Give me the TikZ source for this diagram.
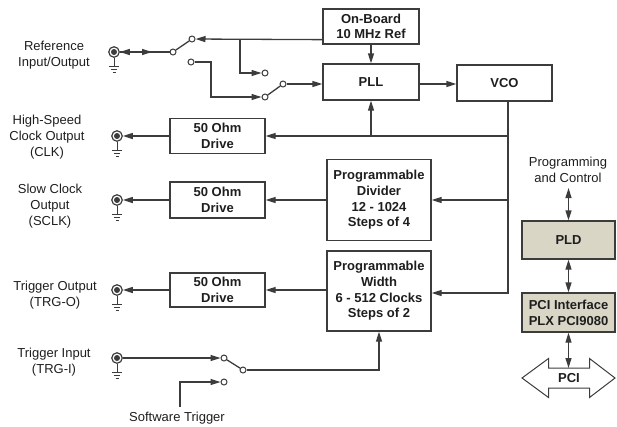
\documentclass[tikz,border=0pt]{standalone}
\usepackage{fontspec}
\setmainfont{Liberation Sans}
\usetikzlibrary{arrows.meta,calc}
\definecolor{ln}{RGB}{60,60,60}
\definecolor{txt}{RGB}{30,30,30}
\definecolor{pldfill}{RGB}{217,214,198}
\tikzset{
  wire/.style={draw=ln, line width=1.3pt},
  arr/.style={wire, -{Triangle[length=10pt,width=6pt]}},
  darr/.style={wire, {Triangle[length=10pt,width=6pt]}-{Triangle[length=10pt,width=6pt]}},
  box/.style={draw=ln, line width=1.3pt, fill=white, text=txt, inner sep=0pt, align=center,
    font=\fontsize{13}{15.7}\selectfont\bfseries},
  lbl/.style={text=txt, inner sep=0pt, align=center, font=\fontsize{13}{16}\selectfont},
  contact/.style={circle, draw=ln, line width=1pt, fill=white, inner sep=0pt, minimum size=6pt},
  conn/.style={circle, draw=ln, line width=1.2pt, fill=white, inner sep=0pt, minimum size=10.5pt,
    path picture={\fill[ln] (path picture bounding box.center) circle (3pt);}},
}
\newcommand\gndsym[1]{\draw[wire, line width=1pt] (#1.south) -- ++(0,9) ++(-5,0) -- ++(10,0) ++(-8,3) -- ++(6,0) ++(-4.5,3) -- ++(3,0);}
\begin{document}
\begin{tikzpicture}[x=1pt,y=-1pt]
\useasboundingbox (0,0) rectangle (617,426);
% boxes
\node[box, minimum width=96pt, minimum height=35pt] (onb) at (371,26.5) {On-Board\\10 MHz Ref};
\node[box, minimum width=96pt, minimum height=36pt] (pll) at (371,82) {PLL};
\node[box, minimum width=95pt, minimum height=36pt] (vco) at (504.5,83) {VCO};
\node[box, minimum width=95pt, minimum height=35pt] (d1) at (217.5,136) {50 Ohm\\Drive};
\node[box, minimum width=95pt, minimum height=36pt] (d2) at (217.5,200) {50 Ohm\\Drive};
\node[box, minimum width=95pt, minimum height=34pt] (d3) at (217.5,290) {50 Ohm\\Drive};
\node[box, minimum width=104pt, minimum height=81pt] (div) at (379,200) {Programmable\\Divider\\12 - 1024\\Steps of 4};
\node[box, minimum width=104pt, minimum height=80pt] (wid) at (379,291) {Programmable\\Width\\6 - 512 Clocks\\Steps of 2};
\node[box, fill=pldfill, minimum width=93pt, minimum height=38pt] (pld) at (568.5,240) {PLD};
\node[box, fill=pldfill, minimum width=93pt, minimum height=39pt] (pcii) at (568.5,312.5) {PCI Interface\\PLX PCI9080};
% labels
\node[lbl] (lref) at (54,55) {Reference\\Input/Output};
\node[lbl] (lclk) at (47,137) {High-Speed\\Clock Output\\(CLK)};
\node[lbl] (lsclk) at (50,206.5) {Slow Clock\\Output\\(SCLK)};
\node[lbl] (ltrgo) at (55,295) {Trigger Output\\(TRG-O)};
\node[lbl] (ltrgi) at (54,362) {Trigger Input\\(TRG-I)};
\node[lbl] (lsw) at (177,418) {Software Trigger};
\node[lbl] (prog) at (568,169.5) {Programming\\and Control};
% connectors
\node[conn] (cref) at (114,52) {};
\node[conn] (cclk) at (117,136) {};
\node[conn] (csclk) at (117,200) {};
\node[conn] (ctrgo) at (117,290) {};
\node[conn] (ctrgi) at (117,358) {};
\gndsym{cref}\gndsym{cclk}\gndsym{csclk}\gndsym{ctrgo}\gndsym{ctrgi}
% switch contacts
\node[contact] (p1) at (173,52) {};
\node[contact] (a1) at (192,39) {};
\node[contact] (b1) at (191,62) {};
\node[contact] (c2) at (265,73) {};
\node[contact] (dd) at (265,97) {};
\node[contact] (p2) at (283,84) {};
\node[contact] (e1) at (224,358) {};
\node[contact] (f1) at (224,382) {};
\node[contact] (p3) at (243,370) {};
% coordinates
\coordinate (onbL) at ($(onb.south west)+(0,-5)$);
\coordinate (j1) at (240,39);
\coordinate (j2) at (211,62);
\coordinate (vb) at ($(vco.south)+(3.5,0)$);
\coordinate (st) at (180,407);
\coordinate (pc) at (568.5,188);
\coordinate (pcitop) at (568.5,368);
% reference switch
\draw[arr] (onbL) -- (a1);
\draw[arr] (j1) |- (c2);
\draw[wire] (p1) -- (a1);
\draw[arr] (p1) -- (cref);
\draw[arr] (cref) -- ($(cref)+(38,0)$);
\draw[arr] (b1) -- (j2) |- (dd);
\draw[wire] (p2) -- (dd);
\draw[arr] (p2) -- (p2 -| pll.west);
% PLL / VCO
\draw[arr] (onb) -- (pll);
\draw[arr] (pll.east |- p2) -- (vco.west |- p2);
\draw[arr] (vb) |- (wid.east |- 0,293);
\draw[arr] (vb |- d1) -- (d1.east);
\draw[arr] (pll.south |- d1) -- (pll.south);
\draw[arr] (vb |- div) -- (div.east);
% outputs
\draw[arr] (div.west) -- (d2.east);
\draw[arr] (wid.west |- d3) -- (d3.east);
\draw[arr] (d1.west) -- (cclk);
\draw[arr] (d2.west) -- (csclk);
\draw[arr] (d3.west) -- (ctrgo);
% trigger
\draw[arr] (ctrgi) -- (e1);
\draw[wire] (e1) -- (p3);
\draw[arr] (st) |- (f1);
\draw[arr] (p3) -| (wid.south);
% right side
\draw[darr] (pc) -- (pld.north);
\draw[darr] (pld) -- (pcii);
\draw[wire, line width=1pt, fill=white] (522,378) -- (548.5,358.5) -- (548.5,368) -- (589.5,368) -- (589.5,358.5) -- (615,378) -- (589.5,397.5) -- (589.5,388) -- (548.5,388) -- (548.5,397.5) -- cycle;
\node[box, draw=none, fill=none] (pci) at (569,378) {PCI};
\draw[darr] (pcii.south) -- (pcitop);
\end{tikzpicture}
\end{document}
